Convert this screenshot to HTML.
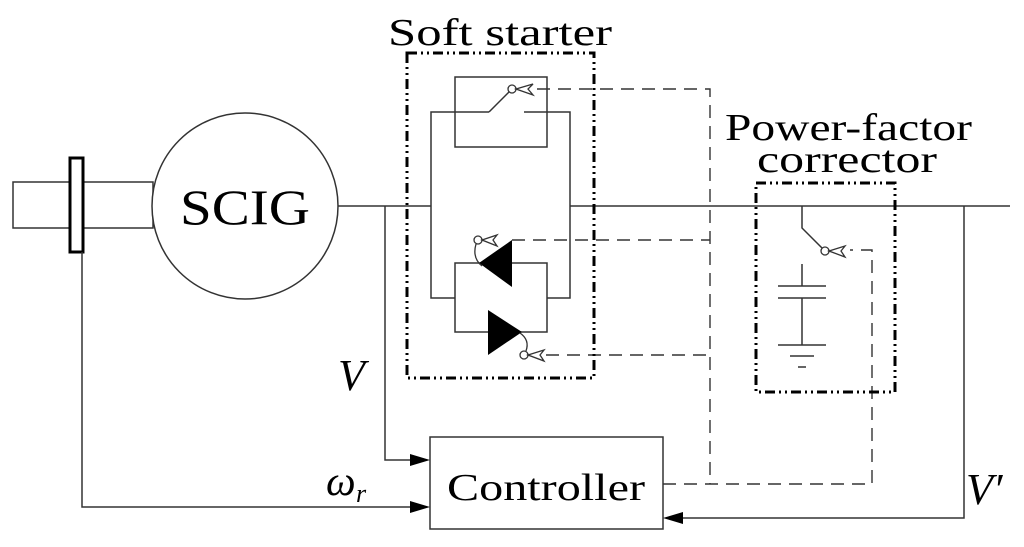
<!DOCTYPE html>
<html><head><meta charset="utf-8"><style>
html,body{margin:0;padding:0;background:#fff;}
svg{display:block;}
.t{font-family:"Liberation Serif","DejaVu Serif","Noto Serif CJK SC",serif;}
</style></head><body>
<svg width="1024" height="547" viewBox="0 0 1024 547" xmlns="http://www.w3.org/2000/svg">
<g fill="none" stroke="#333" stroke-width="1.5">
<rect x="13" y="182" width="140" height="46"/>
<rect x="70" y="158" width="13" height="94" stroke="#000" stroke-width="3" fill="#fff"/>
<circle cx="245" cy="206" r="93" fill="#fff"/>
<line x1="338" y1="206" x2="431" y2="206"/>
<line x1="570" y1="206" x2="1010" y2="206"/>
<polyline points="385,206 385,460 418,460"/>
<polyline points="82,252 82,507 418,507"/>
<polyline points="964,206 964,518 676,518"/>
<rect x="430" y="437" width="233" height="92"/>
<polyline points="489,112 431,112 431,298 455,298"/>
<polyline points="524,112 570,112 570,298 547,298"/>
<line x1="489" y1="112" x2="509" y2="92"/>
<rect x="455" y="77" width="92" height="70"/>
<rect x="455" y="263" width="92" height="69"/>
<polyline points="802,206 802,228 822,248"/>
<line x1="802" y1="264" x2="802" y2="286"/>
<line x1="778" y1="286" x2="826" y2="286"/>
<line x1="778" y1="298" x2="826" y2="298"/>
<line x1="802" y1="298" x2="802" y2="345"/>
<line x1="778" y1="345" x2="826" y2="345"/>
<line x1="790" y1="356" x2="814" y2="356"/>
<line x1="798" y1="367" x2="806" y2="367"/>
</g>
<g fill="#000">
<polygon points="430,460 410,454 410,466"/>
<polygon points="430,507 410,501 410,513"/>
<polygon points="663,518 683,512 683,524"/>
<polygon points="479,263 512,240 512,287"/>
<polygon points="522,332 488,310 488,355"/>
</g>
<g fill="none" stroke="#333" stroke-width="1.3">
<circle cx="512" cy="89" r="4"/>
<path d="M516,89 L533,84 L528,89 L533,95 Z"/>
<circle cx="478" cy="240" r="4"/>
<path d="M482,240 L497,235 L493,240 L497,246 Z"/>
<path d="M476,244 Q472,258 482,266"/>
<circle cx="524" cy="355" r="4"/>
<path d="M528,355 L544,350 L540,355 L544,361 Z"/>
<path d="M520,333 Q530,340 526,351"/>
<circle cx="825" cy="251" r="4"/>
<path d="M829,251 L845,246 L841,251 L845,257 Z"/>
</g>
<g fill="none" stroke="#333" stroke-width="1.4" stroke-dasharray="13,8">
<polyline points="537,89 710,89 710,484"/>
<polyline points="512,240 710,240"/>
<polyline points="546,355 710,355"/>
<polyline points="663,484 872,484 872,250 850,250"/>
</g>
<g fill="none" stroke="#000" stroke-width="3" stroke-dasharray="10,4,2,4,2,4">
<rect x="407" y="53" width="187" height="325"/>
<rect x="756" y="183" width="139" height="209"/>
</g>
<g class="t" fill="#000">
<text class="t" x="180" y="224" font-size="50" textLength="130" lengthAdjust="spacingAndGlyphs">SCIG</text>
<text class="t" x="388" y="45" font-size="38" textLength="224" lengthAdjust="spacingAndGlyphs">Soft starter</text>
<text class="t" x="725" y="140" font-size="38" textLength="247" lengthAdjust="spacingAndGlyphs">Power-factor</text>
<text class="t" x="757" y="172" font-size="38" textLength="180" lengthAdjust="spacingAndGlyphs">corrector</text>
<text class="t" x="447" y="500" font-size="38" textLength="198" lengthAdjust="spacingAndGlyphs">Controller</text>
<text class="t" x="338" y="390" font-size="44" font-style="italic">V</text>
<text class="t" x="326" y="495" font-size="42" font-style="italic">ω</text>
<text class="t" x="356" y="502" font-size="26" font-style="italic">r</text>
<text class="t" x="966" y="504" font-size="44" font-style="italic">V′</text>
</g>
</svg>
</body></html>
